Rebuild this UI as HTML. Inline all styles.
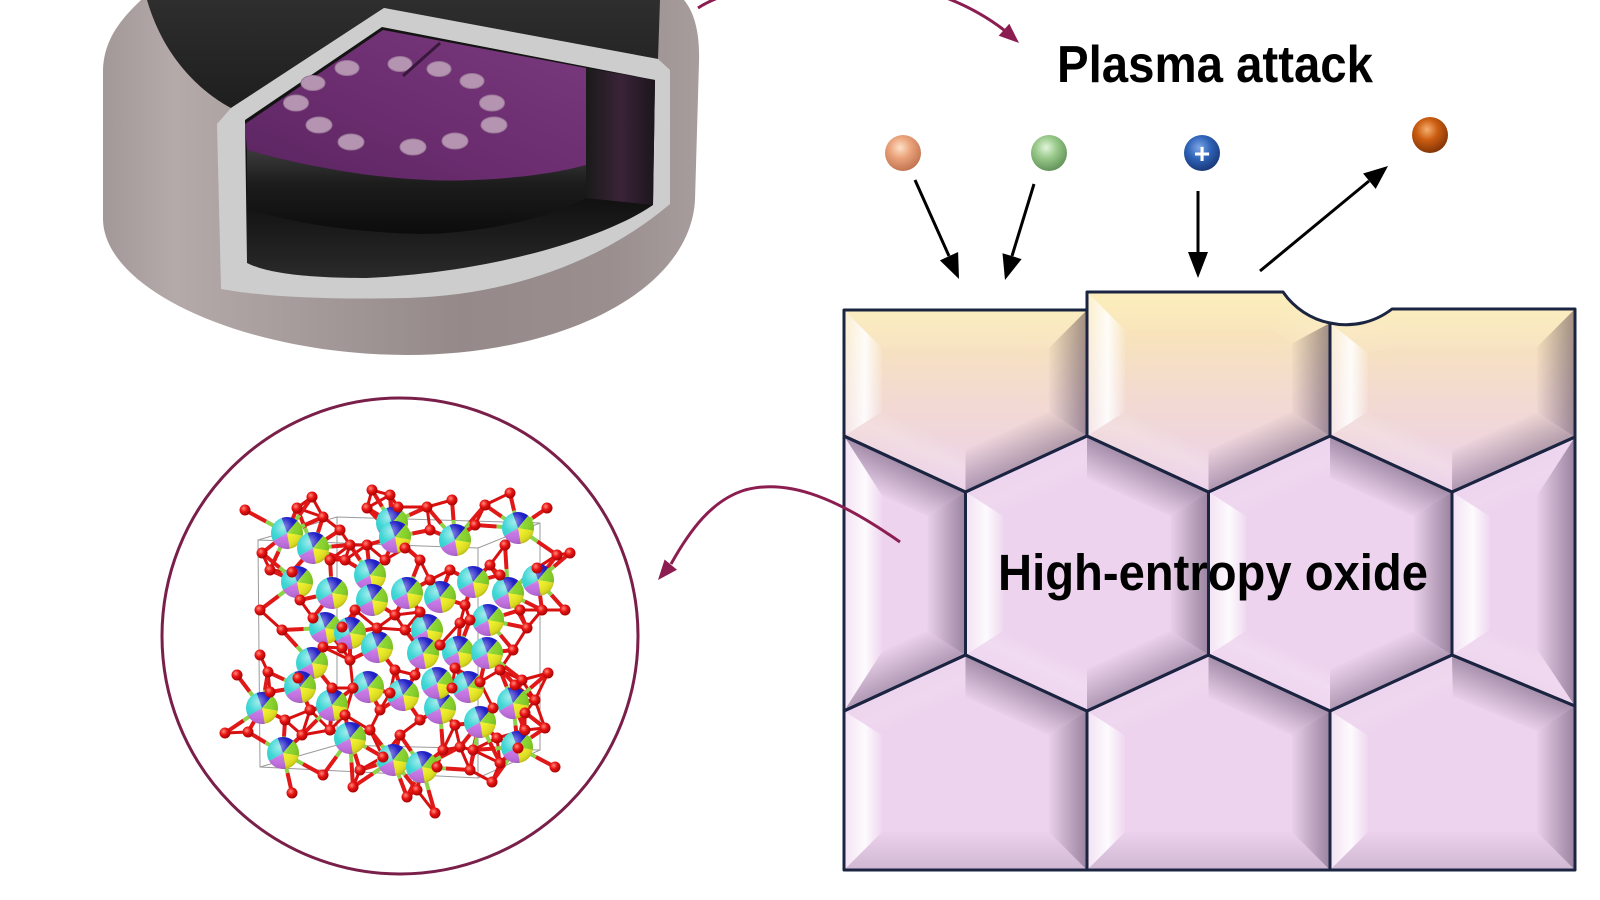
<!DOCTYPE html>
<html><head><meta charset="utf-8"><style>
html,body{margin:0;padding:0;background:#fff;}
svg{display:block;}
text{font-family:"Liberation Sans",Arial,sans-serif;font-weight:bold;}
</style></head><body>
<svg id="s" width="1600" height="900" viewBox="0 0 1600 900" xmlns="http://www.w3.org/2000/svg">
<defs id="defs">
<linearGradient id="bodyg" x1="102" y1="0" x2="700" y2="0" gradientUnits="userSpaceOnUse">
<stop offset="0" stop-color="#a39898"/><stop offset="0.12" stop-color="#b4aaa9"/><stop offset="0.35" stop-color="#a59a9a"/><stop offset="0.6" stop-color="#958989"/><stop offset="0.85" stop-color="#9a8e8e"/><stop offset="1" stop-color="#a89d9d"/>
</linearGradient>
<linearGradient id="blackg" x1="0" y1="0" x2="0" y2="1"><stop offset="0" stop-color="#2e2e2e"/><stop offset="1" stop-color="#1e1e1e"/></linearGradient>
<linearGradient id="intg" x1="0" y1="0" x2="0" y2="1"><stop offset="0" stop-color="#141414"/><stop offset="0.7" stop-color="#121212"/><stop offset="1" stop-color="#2a2a2a"/></linearGradient>
<linearGradient id="wallg" x1="0" y1="0" x2="1" y2="0"><stop offset="0" stop-color="#1a1a1a"/><stop offset="0.5" stop-color="#3a2338"/><stop offset="1" stop-color="#1c161c"/></linearGradient>
<linearGradient id="purg" x1="1" y1="0" x2="0" y2="1"><stop offset="0" stop-color="#7a3a7e"/><stop offset="0.6" stop-color="#6a2c6e"/><stop offset="1" stop-color="#5a2560"/></linearGradient>
<linearGradient id="sideg" x1="0" y1="0" x2="0" y2="1"><stop offset="0" stop-color="#3b3b3b"/><stop offset="0.4" stop-color="#1c1c1c"/><stop offset="1" stop-color="#0c0c0c"/></linearGradient>
<linearGradient id="topRow" x1="0" y1="292" x2="0" y2="490" gradientUnits="userSpaceOnUse">
<stop offset="0" stop-color="#fbe9ad"/><stop offset="0.5" stop-color="#f3dbcf"/><stop offset="1" stop-color="#ebd0ea"/>
</linearGradient>
<radialGradient id="peach" cx="0.42" cy="0.35" r="0.65"><stop offset="0" stop-color="#fde0c8"/><stop offset="0.45" stop-color="#eba47c"/><stop offset="1" stop-color="#c27552"/></radialGradient>
<radialGradient id="green" cx="0.42" cy="0.35" r="0.65"><stop offset="0" stop-color="#e2f4da"/><stop offset="0.45" stop-color="#9acb8c"/><stop offset="1" stop-color="#64945a"/></radialGradient>
<radialGradient id="blue" cx="0.42" cy="0.35" r="0.65"><stop offset="0" stop-color="#7fa6e6"/><stop offset="0.5" stop-color="#2e63b8"/><stop offset="1" stop-color="#1a3a7a"/></radialGradient>
<radialGradient id="orange" cx="0.42" cy="0.35" r="0.65"><stop offset="0" stop-color="#f5b070"/><stop offset="0.45" stop-color="#cc5e12"/><stop offset="1" stop-color="#853506"/></radialGradient>
<radialGradient id="redg" cx="0.38" cy="0.35" r="0.7"><stop offset="0" stop-color="#ff8a7a"/><stop offset="0.45" stop-color="#e81414"/><stop offset="1" stop-color="#a00000"/></radialGradient>
<radialGradient id="shine" cx="0.38" cy="0.32" r="0.75"><stop offset="0" stop-color="#fff" stop-opacity="0.55"/><stop offset="0.45" stop-color="#fff" stop-opacity="0.05"/><stop offset="0.85" stop-color="#000" stop-opacity="0.1"/><stop offset="1" stop-color="#000" stop-opacity="0.3"/></radialGradient>
<g id="big">
<path d="M0,0 L-5.47,-15.04 A16,16 0 0 1 10.28,-12.26 Z" fill="#1414c4"/>
<path d="M0,0 L10.28,-12.26 A16,16 0 0 1 15.76,2.77 Z" fill="#86d426"/>
<path d="M0,0 L15.76,2.77 A16,16 0 0 1 2.77,15.76 Z" fill="#eeee22"/>
<path d="M0,0 L2.77,15.76 A16,16 0 0 1 -13.86,8 Z" fill="#c470e4"/>
<path d="M0,0 L-13.86,8 A16,16 0 0 1 -5.47,-15.04 Z" fill="#34d4d4"/>
<circle r="16" fill="url(#shine)"/>
</g>
<clipPath id="c0"><path d="M844,310 L1087,310 L1087,436 L965.5,492 L844,436 Z"/></clipPath>
<clipPath id="c1"><path d="M1087,292 L1283,292 A75,75 0 0 0 1330,323 L1330,436 L1208.5,492 L1087,436 Z"/></clipPath>
<clipPath id="c2"><path d="M1330,323 A75,75 0 0 0 1392,309 L1575,309 L1575,437 L1452,492 L1330,436 Z"/></clipPath>
<clipPath id="c3"><path d="M844,436 L965.5,492 L965.5,655 L844,711 Z"/></clipPath>
<clipPath id="c4"><path d="M965.5,492 L1087,436 L1208.5,492 L1208.5,655 L1087,711 L965.5,655 Z"/></clipPath>
<clipPath id="c5"><path d="M1208.5,492 L1330,436 L1452,492 L1452,655 L1330,711 L1208.5,655 Z"/></clipPath>
<clipPath id="c6"><path d="M1452,492 L1575,437 L1575,706 L1452,655 Z"/></clipPath>
<clipPath id="c7"><path d="M844,711 L965.5,655 L1087,711 L1087,870 L844,870 Z"/></clipPath>
<clipPath id="c8"><path d="M1087,711 L1208.5,655 L1330,711 L1330,870 L1087,870 Z"/></clipPath>
<clipPath id="c9"><path d="M1330,711 L1452,655 L1575,706 L1575,870 L1330,870 Z"/></clipPath>
</defs>
<rect width="1600" height="900" fill="#fff"/>

<!-- Chamber -->
<g>
<path d="M141,0 C120,20 104,40 103,70 L103,220 C105,292 250,355 407,355 C560,355 690,292 695,200 L699,62 C700,32 694,12 684,0 Z" fill="url(#bodyg)"/>
<path d="M147,0 L660,0 L658,59 L384,8 L231,108 C205,94 165,62 147,0 Z" fill="url(#blackg)"/>
<path d="M231,108 L384,8 L658,59 L670,70 L670,204 C610,255 520,295 407,298 C320,300 260,296 221,289 L217,124 Z" fill="#cdcdcd"/>
<path d="M245,120 L382,27 L655,80 L653,205 C610,235 500,272 366,278 C300,278 265,272 247,263 Z" fill="url(#intg)"/>
<path d="M586,68 L655,80 L653,205 L586,198 Z" fill="url(#wallg)"/>
<path d="M247,150 C300,165 370,178 427,180 C470,182 540,178 586,165 L586,198 C540,222 470,234 420,234 C340,232 280,220 247,208 Z" fill="url(#sideg)"/>
<path d="M245,124 L383,30 L586,68 L586,165 C540,178 470,182 427,180 C370,178 300,165 247,150 Z" fill="url(#purg)"/>
<g fill="#b594b2" stroke="#9a7898" stroke-width="1">
<ellipse cx="347" cy="68" rx="12" ry="7.5"/><ellipse cx="400" cy="64" rx="12" ry="7.5"/><ellipse cx="439" cy="69" rx="12" ry="7.5"/><ellipse cx="472" cy="81" rx="12" ry="7.5"/>
<ellipse cx="313" cy="83" rx="12" ry="7.5"/><ellipse cx="296" cy="103" rx="12.5" ry="8"/><ellipse cx="319" cy="125" rx="13" ry="8"/><ellipse cx="351" cy="142" rx="13" ry="8"/>
<ellipse cx="413" cy="147" rx="13" ry="8"/><ellipse cx="455" cy="141" rx="13" ry="8"/><ellipse cx="494" cy="125" rx="13" ry="8"/><ellipse cx="492" cy="103" rx="12.5" ry="8"/>
</g>
<line x1="403" y1="76" x2="440" y2="43" stroke="#3a173c" stroke-width="3"/>
</g>

<!-- top curved arrow -->
<path d="M698,8 C740,-20 900,-50 1004,30" fill="none" stroke="#8c1d50" stroke-width="3"/>
<polygon points="1019,43 998.7,35.8 1009.3,23.8" fill="#8c1d50"/>

<text x="1057" y="82" font-size="52" textLength="316" lengthAdjust="spacingAndGlyphs" fill="#000">Plasma attack</text>

<!-- particles -->
<circle cx="903" cy="153" r="18" fill="url(#peach)"/>
<circle cx="1049" cy="153" r="18" fill="url(#green)"/>
<circle cx="1202" cy="153" r="18" fill="url(#blue)"/>
<text x="1202" y="163" font-size="28" text-anchor="middle" fill="#fff">+</text>
<circle cx="1430" cy="135" r="18" fill="url(#orange)"/>

<g stroke="#000" stroke-width="3" fill="none">
<line x1="915" y1="180" x2="949" y2="256"/>
<line x1="1034" y1="184" x2="1012" y2="256"/>
<line x1="1198" y1="191" x2="1198" y2="254"/>
<line x1="1260" y1="271" x2="1369" y2="181"/>
</g>
<g fill="#000">
<polygon points="959,279 939.9,260.4 958.1,252"/>
<polygon points="1005,280 1002.5,253.2 1021.6,259.1"/>
<polygon points="1198,278 1188,252 1208,252"/>
<polygon points="1388,166 1375.7,188.9 1363.1,173.5"/>
</g>

<!-- hex block -->
<g id="hexbase">
<path d="M844,310 L1087,310 L1087,436 L965.5,492 L844,436 Z" fill="url(#topRow)"/>
<path d="M1087,292 L1283,292 A75,75 0 0 0 1330,323 L1330,436 L1208.5,492 L1087,436 Z" fill="url(#topRow)"/>
<path d="M1330,323 A75,75 0 0 0 1392,309 L1575,309 L1575,437 L1452,492 L1330,436 Z" fill="url(#topRow)"/>
<g fill="#edd3ee">
<path d="M844,436 L965.5,492 L965.5,655 L844,711 Z"/>
<path d="M965.5,492 L1087,436 L1208.5,492 L1208.5,655 L1087,711 L965.5,655 Z"/>
<path d="M1208.5,492 L1330,436 L1452,492 L1452,655 L1330,711 L1208.5,655 Z"/>
<path d="M1452,492 L1575,437 L1575,706 L1452,655 Z"/>
<path d="M844,711 L965.5,655 L1087,711 L1087,870 L844,870 Z"/>
<path d="M1087,711 L1208.5,655 L1330,711 L1330,870 L1087,870 Z"/>
<path d="M1330,711 L1452,655 L1575,706 L1575,870 L1330,870 Z"/>
</g>
</g>
<g id="facets"></g>
<g fill="none" stroke="#1b2440" stroke-width="3" stroke-linejoin="round">
<path d="M844,310 L1087,310 L1087,436 L965.5,492 L844,436 Z"/>
<path d="M1087,292 L1283,292 A75,75 0 0 0 1330,323 L1330,436 L1208.5,492 L1087,436 Z"/>
<path d="M1330,323 A75,75 0 0 0 1392,309 L1575,309 L1575,437 L1452,492 L1330,436 Z"/>
<path d="M844,436 L965.5,492 L965.5,655 L844,711 Z"/>
<path d="M965.5,492 L1087,436 L1208.5,492 L1208.5,655 L1087,711 L965.5,655 Z"/>
<path d="M1208.5,492 L1330,436 L1452,492 L1452,655 L1330,711 L1208.5,655 Z"/>
<path d="M1452,492 L1575,437 L1575,706 L1452,655 Z"/>
<path d="M844,711 L965.5,655 L1087,711 L1087,870 L844,870 Z"/>
<path d="M1087,711 L1208.5,655 L1330,711 L1330,870 L1087,870 Z"/>
<path d="M1330,711 L1452,655 L1575,706 L1575,870 L1330,870 Z"/>
</g>

<text x="998" y="590" font-size="51" textLength="430" lengthAdjust="spacingAndGlyphs" fill="#000">High-entropy oxide</text>

<!-- curved arrow to circle -->
<path d="M900,542 C840,500 790,478 745,490 C712,500 690,530 671,564" fill="none" stroke="#8c1d50" stroke-width="3"/>
<polygon points="658,580 677,569.7 664.6,559.5" fill="#8c1d50"/>

<!-- circle -->
<circle cx="400" cy="636" r="238" fill="none" stroke="#7a1f4a" stroke-width="3"/>

<!-- crystal -->
<g stroke="#9a9a9a" stroke-width="1" fill="none">
<path d="M258,540 L478,548 L478,778 L260,767 Z"/>
<path d="M337,517 L540,523 L540,750 L337,745 Z"/>
<path d="M258,540 L337,517 M478,548 L540,523 M478,778 L540,750 M260,767 L337,745"/>
</g>
<g id="bonds"></g>
<g id="bigatoms">
<use href="#big" x="287" y="533"/><use href="#big" x="313" y="548"/><use href="#big" x="392" y="523"/><use href="#big" x="395" y="537"/>
<use href="#big" x="455" y="540"/><use href="#big" x="518" y="528"/><use href="#big" x="297" y="582"/><use href="#big" x="332" y="593"/>
<use href="#big" x="370" y="575"/><use href="#big" x="372" y="600"/><use href="#big" x="407" y="593"/><use href="#big" x="440" y="597"/>
<use href="#big" x="473" y="582"/><use href="#big" x="508" y="593"/><use href="#big" x="538" y="580"/><use href="#big" x="325" y="628"/>
<use href="#big" x="350" y="633"/><use href="#big" x="427" y="630"/><use href="#big" x="488" y="620"/><use href="#big" x="312" y="663"/>
<use href="#big" x="377" y="647"/><use href="#big" x="423" y="653"/><use href="#big" x="458" y="652"/><use href="#big" x="487" y="653"/>
<use href="#big" x="300" y="687"/><use href="#big" x="262" y="708"/><use href="#big" x="332" y="705"/><use href="#big" x="368" y="687"/>
<use href="#big" x="403" y="695"/><use href="#big" x="440" y="708"/><use href="#big" x="480" y="722"/><use href="#big" x="513" y="703"/>
<use href="#big" x="517" y="747"/><use href="#big" x="283" y="753"/><use href="#big" x="350" y="738"/><use href="#big" x="393" y="760"/>
<use href="#big" x="422" y="767"/><use href="#big" x="437" y="683"/><use href="#big" x="468" y="687"/>
</g>
<g id="redatoms" fill="url(#redg)">
<circle cx="245" cy="510" r="5.5"/><circle cx="297" cy="508" r="5.5"/><circle cx="312" cy="497" r="5.5"/><circle cx="323" cy="517" r="5.5"/>
<circle cx="372" cy="490" r="5.5"/><circle cx="390" cy="495" r="5.5"/><circle cx="398" cy="507" r="5.5"/><circle cx="367" cy="508" r="5.5"/>
<circle cx="427" cy="507" r="5.5"/><circle cx="452" cy="500" r="5.5"/><circle cx="485" cy="505" r="5.5"/><circle cx="510" cy="493" r="5.5"/>
<circle cx="547" cy="508" r="5.5"/><circle cx="262" cy="553" r="5.5"/><circle cx="270" cy="570" r="5.5"/><circle cx="292" cy="572" r="5.5"/>
<circle cx="350" cy="545" r="5.5"/><circle cx="367" cy="545" r="5.5"/><circle cx="557" cy="555" r="5.5"/><circle cx="570" cy="553" r="5.5"/>
<circle cx="537" cy="568" r="5.5"/><circle cx="542" cy="610" r="5.5"/><circle cx="565" cy="610" r="5.5"/><circle cx="260" cy="610" r="5.5"/>
<circle cx="282" cy="630" r="5.5"/><circle cx="313" cy="618" r="5.5"/><circle cx="342" cy="627" r="5.5"/><circle cx="377" cy="628" r="5.5"/>
<circle cx="405" cy="630" r="5.5"/><circle cx="460" cy="623" r="5.5"/><circle cx="470" cy="620" r="5.5"/><circle cx="527" cy="628" r="5.5"/>
<circle cx="513" cy="650" r="5.5"/><circle cx="268" cy="672" r="5.5"/><circle cx="237" cy="675" r="5.5"/><circle cx="298" cy="678" r="5.5"/>
<circle cx="332" cy="688" r="5.5"/><circle cx="353" cy="688" r="5.5"/><circle cx="390" cy="693" r="5.5"/><circle cx="440" cy="645" r="5.5"/>
<circle cx="452" cy="688" r="5.5"/><circle cx="480" cy="682" r="5.5"/><circle cx="515" cy="685" r="5.5"/><circle cx="548" cy="673" r="5.5"/>
<circle cx="493" cy="708" r="5.5"/><circle cx="525" cy="713" r="5.5"/><circle cx="225" cy="733" r="5.5"/><circle cx="248" cy="732" r="5.5"/>
<circle cx="302" cy="735" r="5.5"/><circle cx="323" cy="775" r="5.5"/><circle cx="353" cy="787" r="5.5"/><circle cx="383" cy="757" r="5.5"/>
<circle cx="400" cy="735" r="5.5"/><circle cx="443" cy="750" r="5.5"/><circle cx="460" cy="747" r="5.5"/><circle cx="473" cy="750" r="5.5"/>
<circle cx="497" cy="738" r="5.5"/><circle cx="525" cy="730" r="5.5"/><circle cx="545" cy="728" r="5.5"/><circle cx="555" cy="767" r="5.5"/>
<circle cx="492" cy="782" r="5.5"/><circle cx="518" cy="748" r="5.5"/><circle cx="292" cy="793" r="5.5"/><circle cx="407" cy="797" r="5.5"/>
<circle cx="435" cy="813" r="5.5"/><circle cx="417" cy="790" r="5.5"/><circle cx="437" cy="767" r="5.5"/><circle cx="270" cy="692" r="5.5"/>
<circle cx="330" cy="730" r="5.5"/><circle cx="370" cy="730" r="5.5"/><circle cx="500" cy="763" r="5.5"/><circle cx="342" cy="648" r="5.5"/>
<circle cx="350" cy="660" r="5.5"/><circle cx="323" cy="647" r="5.5"/><circle cx="420" cy="612" r="5.5"/><circle cx="395" cy="615" r="5.5"/>
<circle cx="450" cy="570" r="5.5"/><circle cx="490" cy="565" r="5.5"/><circle cx="345" cy="560" r="5.5"/><circle cx="420" cy="560" r="5.5"/>
<circle cx="330" cy="560" r="5.5"/><circle cx="300" cy="600" r="5.5"/><circle cx="355" cy="610" r="5.5"/><circle cx="385" cy="560" r="5.5"/>
<circle cx="430" cy="580" r="5.5"/><circle cx="465" cy="605" r="5.5"/><circle cx="500" cy="575" r="5.5"/><circle cx="520" cy="610" r="5.5"/>
<circle cx="395" cy="670" r="5.5"/><circle cx="415" cy="675" r="5.5"/><circle cx="455" cy="668" r="5.5"/><circle cx="500" cy="670" r="5.5"/>
<circle cx="345" cy="715" r="5.5"/><circle cx="380" cy="710" r="5.5"/><circle cx="420" cy="720" r="5.5"/><circle cx="455" cy="725" r="5.5"/>
<circle cx="310" cy="710" r="5.5"/><circle cx="285" cy="720" r="5.5"/><circle cx="360" cy="770" r="5.5"/><circle cx="470" cy="770" r="5.5"/>
<circle cx="405" cy="548" r="5.5"/><circle cx="430" cy="530" r="5.5"/><circle cx="340" cy="530" r="5.5"/><circle cx="475" cy="525" r="5.5"/>
<circle cx="505" cy="545" r="5.5"/><circle cx="260" cy="655" r="5.5"/><circle cx="522" cy="680" r="5.5"/><circle cx="535" cy="700" r="5.5"/>
</g>
</svg>
<script>
(function(){
var NS='http://www.w3.org/2000/svg';
var defs=document.getElementById('defs');
var fg=document.getElementById('facets');
var d=38,gid=0;
var cells=[
[[844,310],[1087,310],[1087,436],[965.5,492],[844,436]],
[[1087,292],[1283,292],[1330,323],[1330,436],[1208.5,492],[1087,436]],
[[1330,323],[1392,309],[1575,309],[1575,437],[1452,492],[1330,436]],
[[844,436],[965.5,492],[965.5,655],[844,711]],
[[965.5,492],[1087,436],[1208.5,492],[1208.5,655],[1087,711],[965.5,655]],
[[1208.5,492],[1330,436],[1452,492],[1452,655],[1330,711],[1208.5,655]],
[[1452,492],[1575,437],[1575,706],[1452,655]],
[[844,711],[965.5,655],[1087,711],[1087,870],[844,870]],
[[1087,711],[1208.5,655],[1330,711],[1330,870],[1087,870]],
[[1330,711],[1452,655],[1575,706],[1575,870],[1330,870]]
];
function el(t,a){var e=document.createElementNS(NS,t);for(var k in a)e.setAttribute(k,a[k]);return e;}
cells.forEach(function(P,ci){
var cg=el('g',{'clip-path':'url(#c'+ci+')'});fg.appendChild(cg);
var n=P.length,cx=0,cy=0;P.forEach(function(p){cx+=p[0];cy+=p[1];});cx/=n;cy/=n;
var lines=[];
for(var i=0;i<n;i++){var a=P[i],b=P[(i+1)%n];var ux=b[0]-a[0],uy=b[1]-a[1];var len=Math.hypot(ux,uy);ux/=len;uy/=len;var nx=-uy,ny=ux;var mx=(a[0]+b[0])/2,my=(a[1]+b[1])/2;if((cx-mx)*nx+(cy-my)*ny<0){nx=-nx;ny=-ny;}
lines.push({ux:ux,uy:uy,nx:nx,ny:ny,mx:mx,my:my,ox:a[0]+nx*d,oy:a[1]+ny*d});}
var Q=[];
for(var i=0;i<n;i++){var l1=lines[(i-1+n)%n],l2=lines[i];var det=l1.ux*(-l2.uy)-l1.uy*(-l2.ux);var dx=l2.ox-l1.ox,dy=l2.oy-l1.oy;var t=(dx*(-l2.uy)-dy*(-l2.ux))/det;Q.push([l1.ox+t*l1.ux,l1.oy+t*l1.uy]);}
for(var i=0;i<n;i++){var l=lines[i];
var onx=-l.nx,ony=-l.ny;
var white=Math.max(0,-onx)*0.95;
var dark=Math.max(0,onx)*0.62+Math.max(0,-ony)*0.32+Math.max(0,ony)*0.22;
var isTop=(l.my<335 && ony<-0.2 && ci<3);
var id='fg'+(gid++);
var g=el('linearGradient',{id:id,gradientUnits:'userSpaceOnUse',x1:l.mx,y1:l.my,x2:l.mx+l.nx*d,y2:l.my+l.ny*d});
if(isTop){
g.appendChild(el('stop',{offset:'0','stop-color':'#fff8d8','stop-opacity':0.35}));
g.appendChild(el('stop',{offset:'1','stop-color':'#fff8d8','stop-opacity':0.1}));
}else if(white>dark){var w=white-dark;
g.appendChild(el('stop',{offset:'0','stop-color':'#ffffff','stop-opacity':0.35*w}));
g.appendChild(el('stop',{offset:'0.55','stop-color':'#ffffff','stop-opacity':0.95*w}));
g.appendChild(el('stop',{offset:'1','stop-color':'#ffffff','stop-opacity':0.1*w}));
}else{var k=dark-white;
g.appendChild(el('stop',{offset:'0','stop-color':'#3a2844','stop-opacity':0.75*k}));
g.appendChild(el('stop',{offset:'1','stop-color':'#3a2844','stop-opacity':0.04*k}));
}
defs.appendChild(g);
var a=P[i],b=P[(i+1)%n],qa=Q[i],qb=Q[(i+1)%n];
cg.appendChild(el('polygon',{points:a.join(',')+' '+b.join(',')+' '+qb.join(',')+' '+qa.join(','),fill:'url(#'+id+')'}));
}
});
var bonds=document.getElementById('bonds');
var big=[].map.call(document.querySelectorAll('#bigatoms use'),function(u){return [+u.getAttribute('x'),+u.getAttribute('y')];});
var red=[].map.call(document.querySelectorAll('#redatoms circle'),function(c){return [+c.getAttribute('cx'),+c.getAttribute('cy')];});
for(var i=0;i<red.length;i++)for(var j=i+1;j<red.length;j++){var dd=Math.hypot(red[i][0]-red[j][0],red[i][1]-red[j][1]);if(dd<30){bonds.appendChild(el('line',{x1:red[i][0],y1:red[i][1],x2:red[j][0],y2:red[j][1],stroke:'#d81010','stroke-width':3}));}}
red.forEach(function(r){
var c=big.map(function(b){return [Math.hypot(b[0]-r[0],b[1]-r[1]),b];}).sort(function(x,y){return x[0]-y[0];});
for(var k=0;k<2;k++){if(c[k][0]<50){var b=c[k][1];var mx=(b[0]+r[0])/2,my=(b[1]+r[1])/2;
bonds.appendChild(el('line',{x1:b[0],y1:b[1],x2:mx,y2:my,stroke:'#8ed24a','stroke-width':4}));
bonds.appendChild(el('line',{x1:mx,y1:my,x2:r[0],y2:r[1],stroke:'#e01818','stroke-width':4}));}}
});
})();
</script>
</body></html>
